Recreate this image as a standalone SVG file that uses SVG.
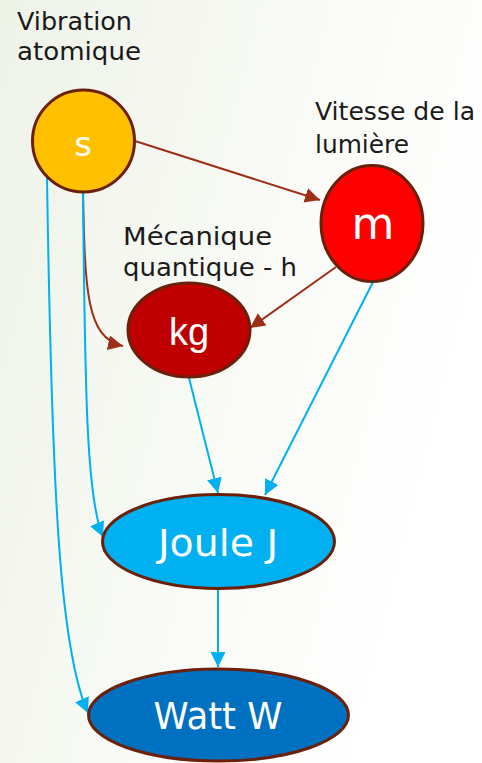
<svg xmlns="http://www.w3.org/2000/svg" width="482" height="763" viewBox="0 0 482 763">
  <defs>
    <linearGradient id="bg" x1="0" y1="0" x2="1" y2="0.4">
      <stop offset="0" stop-color="#eef2e7"/>
      <stop offset="0.7" stop-color="#fbfcf9"/>
      <stop offset="1" stop-color="#ffffff"/>
    </linearGradient>
    <marker id="arrowBrown" viewBox="0 0 10 10" refX="10" refY="5" markerWidth="15" markerHeight="15" markerUnits="userSpaceOnUse" orient="auto">
      <path d="M0,0 L10,5 L0,10 z" fill="#9c2f16"/>
    </marker>
    <marker id="arrowBlue" viewBox="0 0 10 10" refX="10" refY="5" markerWidth="15" markerHeight="15" markerUnits="userSpaceOnUse" orient="auto">
      <path d="M0,0 L10,5 L0,10 z" fill="#00b0f0"/>
    </marker>
  </defs>
  <style>
    .node { stroke: #6b2009; stroke-width: 3; }
    .nlabel { font-family: "DejaVu Sans", "Liberation Sans", sans-serif; fill: #ffffff; text-anchor: middle; }
    .label { font-family: "DejaVu Sans", "Liberation Sans", sans-serif; font-size: 25px; fill: #1a1a1a; }
    .brown { fill: none; stroke: #9c2f16; stroke-width: 2; marker-end: url(#arrowBrown); }
    .blue { fill: none; stroke: #00b0f0; stroke-width: 2; marker-end: url(#arrowBlue); }
  </style>

  <rect x="0" y="0" width="482" height="763" fill="url(#bg)"/>

  <!-- free-standing captions -->
  <g id="captions">
    <text class="label" x="17" y="30" textLength="115" lengthAdjust="spacingAndGlyphs">Vibration</text>
    <text class="label" x="17" y="60" textLength="124" lengthAdjust="spacingAndGlyphs">atomique</text>
    <text class="label" x="315" y="120" textLength="160" lengthAdjust="spacingAndGlyphs">Vitesse de la</text>
    <text class="label" x="315" y="153" textLength="94" lengthAdjust="spacingAndGlyphs">lumière</text>
    <text class="label" x="123" y="245" textLength="149" lengthAdjust="spacingAndGlyphs">Mécanique</text>
    <text class="label" x="123" y="276" textLength="174" lengthAdjust="spacingAndGlyphs">quantique - h</text>
  </g>

  <!-- connectors -->
  <g id="connectors">
    <path class="brown" d="M135,141 L320,200"/>
    <path class="brown" d="M336,267 L250,328"/>
    <path class="brown" d="M83,192 C85,290 86,338 123,346"/>
    <path class="blue" d="M83,192 C85,400 87,500 103,537"/>
    <path class="blue" d="M47,178 C52,500 60,650 88,713"/>
    <path class="blue" d="M189,378 L218,493"/>
    <path class="blue" d="M373,282 L265,495"/>
    <path class="blue" d="M218,589 L218,667"/>
  </g>

  <g id="node-s">
    <ellipse class="node" cx="83.5" cy="141" rx="51" ry="51" fill="#ffc000"/>
    <text class="nlabel" x="83" y="156" font-size="34">s</text>
  </g>
  <g id="node-m">
    <ellipse class="node" cx="372" cy="223.5" rx="51" ry="58" fill="#ff0000"/>
    <text class="nlabel" x="373" y="239" font-size="44">m</text>
  </g>
  <g id="node-kg">
    <ellipse class="node" cx="189" cy="330" rx="61" ry="47" fill="#c00000"/>
    <text class="nlabel" x="189" y="345" font-size="38" style="font-family:'Liberation Sans', sans-serif">kg</text>
  </g>
  <g id="node-joule">
    <ellipse class="node" cx="218.5" cy="541.5" rx="116" ry="47" fill="#00b0f0"/>
    <text class="nlabel" x="218" y="556" font-size="38" textLength="120" lengthAdjust="spacingAndGlyphs">Joule J</text>
  </g>
  <g id="node-watt">
    <ellipse class="node" cx="218.5" cy="715" rx="130" ry="46" fill="#0070c0"/>
    <text class="nlabel" x="218" y="729" font-size="37" textLength="129" lengthAdjust="spacingAndGlyphs">Watt W</text>
  </g>
</svg>
